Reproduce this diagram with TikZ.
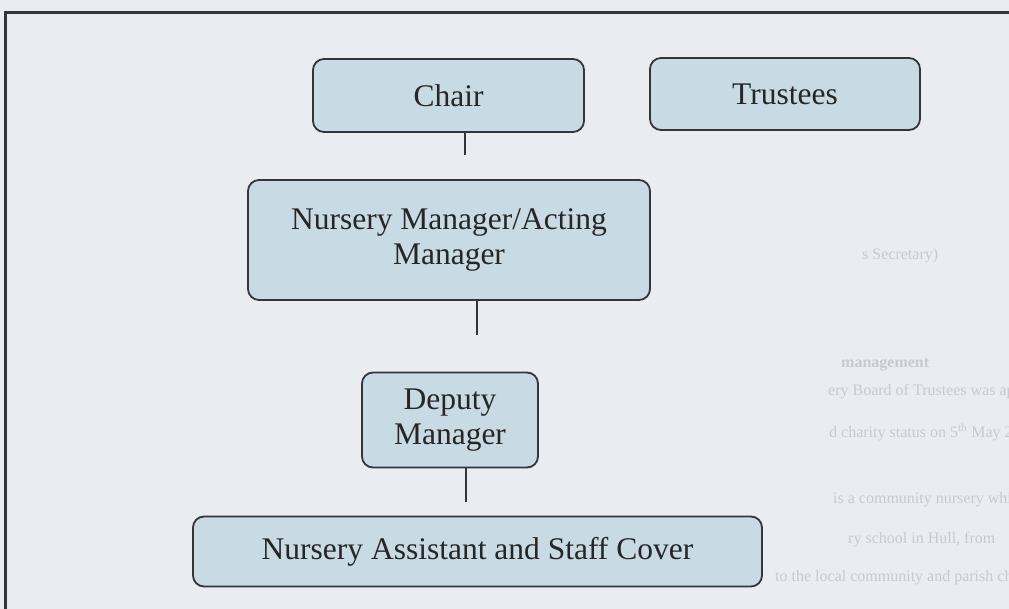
\documentclass[tikz,border=0pt]{standalone}
\usepackage{fontspec}
\setmainfont{Liberation Serif}
\definecolor{paper}{HTML}{E9ECF1}
\definecolor{boxfill}{HTML}{C8DAE4}
\definecolor{edge}{HTML}{333538}
\definecolor{ghost}{HTML}{C6CAD2}
\tikzset{
  orgbox/.style={draw=edge, line width=1.8pt, fill=boxfill, rounded corners=11pt,
    align=center, inner sep=0pt, font=\fontsize{31.5}{35}\selectfont, text=black!85},
  link/.style={draw=edge, line width=2pt},
  ghosttext/.style={anchor=west, inner sep=0pt, text=ghost, font=\fontsize{16}{19}\selectfont},
  frame/.style={draw=edge, line width=3pt}
}
\begin{document}
\begin{tikzpicture}[x=1pt,y=-1pt]
\useasboundingbox (0,0) rectangle (1009,609);
\fill[paper] (0,0) rectangle (1009,609);
% faint show-through text from the page beneath
\begin{scope}
\clip (0,0) rectangle (1009,609);
\node[ghosttext] (g1) at (862,256) {s Secretary)};
\node[ghosttext] (g2) at (841,365) {\textbf{management}};
\node[ghosttext] (g3) at (828,392) {ery Board of Trustees was appointed by a Trust Deed executed on 18};
\node[ghosttext] (g4) at (829,432) {d charity status on 5\textsuperscript{th} May 2008.};
\node[ghosttext] (g5) at (833,500) {is a community nursery which opened in Sept. 2002 at what was then};
\node[ghosttext] (g6) at (848,540) {ry school in Hull, from};
\node[ghosttext] (g7) at (775,578) {to the local community and parish church. The nursery works to deliver};
\end{scope}
% outer frame (top and left edges)
\coordinate (ftl) at (5,13);
\coordinate (ftr) at (1012,13);
\coordinate (fbl) at (5,612);
\draw[frame] (ftr) -- (ftl) -- (fbl);
% boxes
\node[orgbox, minimum width=271pt, minimum height=73pt] (chair) at (448.5,95.5) {Chair};
\node[orgbox, minimum width=270pt, minimum height=72pt] (trustees) at (785,94) {Trustees};
\node[orgbox, minimum width=402pt, minimum height=120pt] (nm) at (449,240) {Nursery Manager/Acting\\Manager};
\node[orgbox, minimum width=176pt, minimum height=95pt] (deputy) at (450,420) {Deputy\\Manager};
\node[orgbox, minimum width=569pt, minimum height=70pt] (assist) at (477.5,551.5) {Nursery Assistant and Staff Cover};
% connector stubs
\coordinate (c1) at (465,155);
\coordinate (c2) at (477,335);
\coordinate (c3) at (466,502);
\draw[link] (chair.south -| c1) -- (c1);
\draw[link] (nm.south -| c2) -- (c2);
\draw[link] (deputy.south -| c3) -- (c3);
\end{tikzpicture}
\end{document}
